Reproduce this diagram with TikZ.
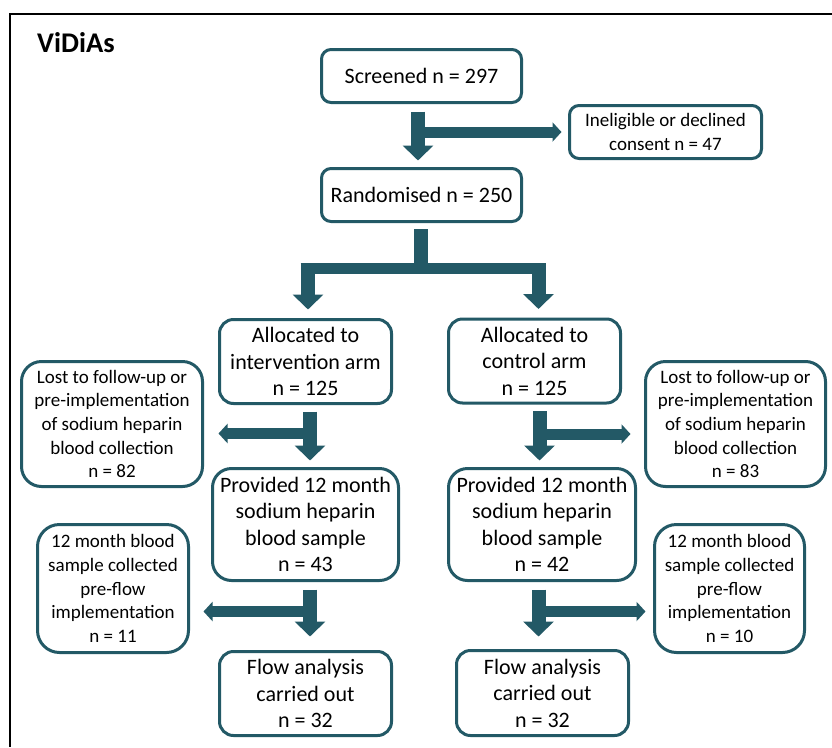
\documentclass[tikz,border=0pt]{standalone}
\usepackage{fontspec}
\setmainfont{Carlito}
\usetikzlibrary{arrows.meta}
\definecolor{flowteal}{RGB}{35,89,102}
\begin{document}
\begin{tikzpicture}[x=1pt,y=-1pt,
  box/.style={draw=flowteal, line width=3pt, fill=white, align=center,
    inner sep=0pt, text=black, font=\fontsize{22}{26.5}\selectfont},
  side/.style={box, font=\fontsize{19}{23.7}\selectfont},
  stem/.style={draw=flowteal, line width=14pt, -{Triangle[width=30pt,length=15pt]}},
  branch/.style={draw=flowteal, line width=11pt, -{Triangle[width=19pt,length=9pt]}},
  bar/.style={draw=flowteal, line width=11pt}]
\useasboundingbox (0,0) rectangle (832,747);
% frame and title
\draw[line width=2pt] (832,13.5) -- (10,13.5) -- (10,747);
\node[anchor=base west, inner sep=0pt, font=\fontsize{28.5}{34}\selectfont\bfseries] (title) at (37,52) {ViDiAs};

% boxes
\node[box, minimum width=200pt, minimum height=53pt, rounded corners=9.5pt] (screened) at (421.5,76) {Screened n = 297};
\node[side, minimum width=192pt, minimum height=53pt, rounded corners=9.5pt] (inelig) at (665.5,132) {Ineligible or declined\\consent n = 47};
\node[box, minimum width=200pt, minimum height=53pt, rounded corners=9.5pt] (random) at (421.5,195) {Randomised n = 250};
\node[box, minimum width=172pt, minimum height=84pt, rounded corners=14pt] (allocI) at (305.5,361.5) {Allocated to\\intervention arm\\n = 125};
\node[box, minimum width=172pt, minimum height=84pt, rounded corners=14pt] (allocC) at (534.5,361) {Allocated to\\control arm\\n = 125};
\node[side, minimum width=181pt, minimum height=125pt, rounded corners=20pt] (lostI) at (112,424) {Lost to follow-up or\\pre-implementation\\of sodium heparin\\blood collection\\n = 82};
\node[side, minimum width=180pt, minimum height=125pt, rounded corners=20pt] (lostC) at (735.5,424) {Lost to follow-up or\\pre-implementation\\of sodium heparin\\blood collection\\n = 83};
\node[box, minimum width=186pt, minimum height=112pt, rounded corners=19pt] (provI) at (305.5,524.5) {Provided 12 month\\sodium heparin\\blood sample\\n = 43};
\node[box, minimum width=187pt, minimum height=112pt, rounded corners=19pt] (provC) at (542,524.5) {Provided 12 month\\sodium heparin\\blood sample\\n = 42};
\node[side, minimum width=151pt, minimum height=128pt, rounded corners=22pt] (monI) at (113,588.5) {12 month blood\\sample collected\\pre-flow\\implementation\\n = 11};
\node[side, minimum width=150pt, minimum height=128pt, rounded corners=22pt] (monC) at (729.5,588.5) {12 month blood\\sample collected\\pre-flow\\implementation\\n = 10};
\node[box, minimum width=172pt, minimum height=84pt, rounded corners=14pt] (flowI) at (305.5,693.5) {Flow analysis\\carried out\\n = 32};
\node[box, minimum width=172pt, minimum height=85pt, rounded corners=14pt] (flowC) at (542.5,693) {Flow analysis\\carried out\\n = 32};

% screening -> randomisation, with exclusions to the right
\coordinate (s1) at ([xshift=-3.5pt,yshift=-7.5pt]screened.south);
\draw[branch, shorten >=6.5pt] (s1 |- inelig.west) -- (inelig.west);
\draw[stem, shorten >=6.5pt] (s1) -- (s1 |- random.north);

% randomisation split into two arms
\coordinate (r1) at ([xshift=-0.5pt,yshift=-6pt]random.south);
\coordinate (split) at ([xshift=-0.5pt,yshift=-45pt]random.south);
\coordinate (lt) at ([xshift=2.5pt]allocI.north |- split);
\coordinate (rt) at ([xshift=4pt]allocC.north |- split);
\draw[bar] ([xshift=-7.5pt]lt) -- ([xshift=7.5pt]rt);
\draw[bar, line width=14pt] (r1) -- (split);
\draw[stem, shorten >=8.5pt] (lt) -- (lt |- allocI.north);
\draw[stem, shorten >=8.5pt] (rt) -- (rt |- allocC.north);

% intervention arm
\coordinate (a1) at ([xshift=4.5pt,yshift=-6.5pt]allocI.south);
\coordinate (j1) at ([yshift=-22pt]a1);
\draw[branch, shorten >=14.5pt] (j1) -- (j1 -| lostI.east);
\draw[stem, shorten >=6.5pt] (a1) -- (a1 |- provI.north);
\coordinate (a3) at ([xshift=4.5pt,yshift=-7.5pt]provI.south);
\coordinate (j3) at ([yshift=-22pt]a3);
\draw[branch, shorten >=13.5pt] (j3) -- (j3 -| monI.east);
\draw[stem, shorten >=13.5pt] (a3) -- (a3 |- flowI.north);

% control arm
\coordinate (a2) at ([xshift=5pt,yshift=-6.5pt]allocC.south);
\coordinate (j2) at ([yshift=-23pt]a2);
\draw[branch, shorten >=13.5pt] (j2) -- (j2 -| lostC.west);
\draw[stem, shorten >=6.5pt] (a2) -- (a2 |- provC.north);
\coordinate (a4) at ([xshift=-3.5pt,yshift=-7.5pt]provC.south);
\coordinate (j4) at ([yshift=-22pt]a4);
\draw[branch, shorten >=7.5pt] (j4) -- (j4 -| monC.west);
\draw[stem, shorten >=12.5pt] (a4) -- (a4 |- flowC.north);
\end{tikzpicture}
\end{document}
